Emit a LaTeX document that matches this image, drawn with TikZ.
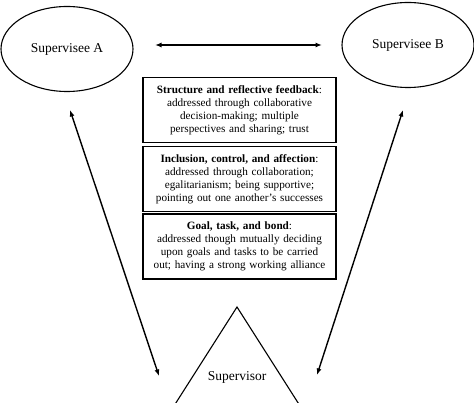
\documentclass[tikz,border=0pt]{standalone}
\usepackage{fontspec}
\setmainfont{Liberation Serif}
\usetikzlibrary{arrows.meta,shapes.geometric}
\begin{document}
\begin{tikzpicture}[x=1pt,y=-1pt,
  oval/.style={draw,ellipse,line width=1.1pt,minimum width=132pt,minimum height=85pt,font=\fontsize{13.5}{15}\selectfont},
  infobox/.style={draw,line width=1.3pt,minimum width=193pt,minimum height=65pt,text width=190pt,align=center,inner sep=1pt,font=\fontsize{11.2}{13}\selectfont},
  link/.style={line width=1.4pt,{Latex[length=6.5pt,width=5pt]}-{Latex[length=6.5pt,width=5pt]}}]
\useasboundingbox (0,0) rectangle (474,403);
\node[oval] (a) at (67,49) {Supervisee A};
\node[oval] (b) at (408,45) {Supervisee B};
\node[infobox] (s1) at (239.5,110) {\textbf{Structure and reflective feedback}:\\addressed through collaborative\\decision-making; multiple\\perspectives and sharing; trust};
\node[infobox] (s2) at (239.5,179) {\textbf{Inclusion, control, and affection}:\\addressed through collaboration;\\egalitarianism; being supportive;\\pointing out one another's successes};
\node[infobox] (s3) at (239.5,246.5) {\textbf{Goal, task, and bond}:\\addressed though mutually deciding\\upon goals and tasks to be carried\\out; having a strong working alliance};
\begin{scope}
\clip (0,0) rectangle (474,403);
\draw[line width=1.1pt] (237,307) -- (165,420) -- (309,420) -- cycle;
\end{scope}
\node[font=\fontsize{13.5}{15}\selectfont] (sup) at (237,377) {Supervisor};
\coordinate (ab) at (155,45);
\coordinate (ba) at (322,45);
\coordinate (as) at (70,110);
\coordinate (sa) at (159,376);
\coordinate (bs) at (403,110);
\coordinate (sb) at (317,375);
\draw[link] (ab) -- (ba);
\draw[link] (as) -- (sa);
\draw[link] (bs) -- (sb);
\end{tikzpicture}
\end{document}
